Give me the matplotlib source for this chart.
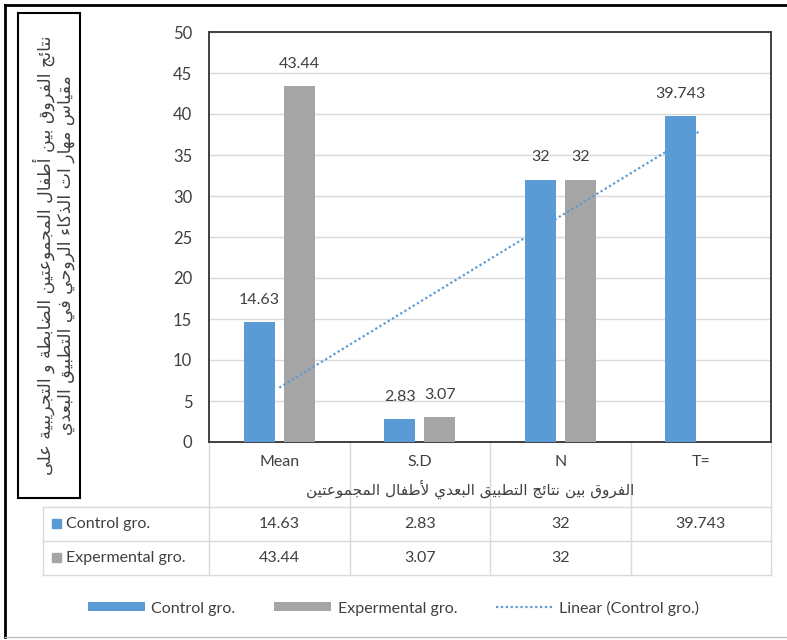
import numpy as np
import matplotlib
matplotlib.use("Agg")
import matplotlib.pyplot as plt
from matplotlib.patches import Rectangle

plt.rcParams['font.family'] = ['Lato', 'DejaVu Sans']

# ---- data ----
categories = ['Mean', 'S.D', 'N', 'T=']
series_names = ['Control gro.', 'Expermental gro.']
control = [14.63, 2.83, 32, 39.743]
experimental = [43.44, 3.07, 32, None]

y_title_lines = ['نتائج الفروق بين أطفال المجموعتين الضابطة و التجريبية على',
                 'مقياس مهار ات الذكاء الروحي في التطبيق البعدي']
x_title = 'الفروق بين نتائج التطبيق البعدي لأطفال المجموعتين'

BLUE = '#5b9bd5'
GRAY = '#a5a5a5'
TXT = '#404040'

# ---- minimal arabic shaping (matplotlib draws glyphs left-to-right, unjoined) ----
AR_FORMS = {
    'ء': (0xFE80, 1), 'آ': (0xFE81, 2), 'أ': (0xFE83, 2), 'ؤ': (0xFE85, 2),
    'إ': (0xFE87, 2), 'ئ': (0xFE89, 4), 'ا': (0xFE8D, 2), 'ب': (0xFE8F, 4),
    'ة': (0xFE93, 2), 'ت': (0xFE95, 4), 'ث': (0xFE99, 4), 'ج': (0xFE9D, 4),
    'ح': (0xFEA1, 4), 'خ': (0xFEA5, 4), 'د': (0xFEA9, 2), 'ذ': (0xFEAB, 2),
    'ر': (0xFEAD, 2), 'ز': (0xFEAF, 2), 'س': (0xFEB1, 4), 'ش': (0xFEB5, 4),
    'ص': (0xFEB9, 4), 'ض': (0xFEBD, 4), 'ط': (0xFEC1, 4), 'ظ': (0xFEC5, 4),
    'ع': (0xFEC9, 4), 'غ': (0xFECD, 4), 'ف': (0xFED1, 4), 'ق': (0xFED5, 4),
    'ك': (0xFED9, 4), 'ل': (0xFEDD, 4), 'م': (0xFEE1, 4), 'ن': (0xFEE5, 4),
    'ه': (0xFEE9, 4), 'و': (0xFEED, 2), 'ى': (0xFEEF, 2), 'ي': (0xFEF1, 4),
}
LAM_ALEF = {'ا': 0xFEFB, 'أ': 0xFEF7, 'إ': 0xFEF9, 'آ': 0xFEF5}


def dual(c):
    return c in AR_FORMS and AR_FORMS[c][1] == 4


def shape_ar(text):
    out = []
    n = len(text)
    i = 0
    while i < n:
        c = text[i]
        if c not in AR_FORMS:
            out.append(c)
            i += 1
            continue
        link_prev = i > 0 and dual(text[i - 1])
        if c == 'ل' and i + 1 < n and text[i + 1] in LAM_ALEF:
            out.append(chr(LAM_ALEF[text[i + 1]] + (1 if link_prev else 0)))
            i += 2
            continue
        base, nforms = AR_FORMS[c]
        nxt = text[i + 1] if i + 1 < n else ''
        link_next = nforms == 4 and nxt in AR_FORMS and nxt != 'ء'
        if nforms == 1:
            form = 0
        elif link_prev and link_next:
            form = 3
        elif link_prev:
            form = 1
        elif link_next:
            form = 2
        else:
            form = 0
        out.append(chr(base + form))
        i += 1
    return ''.join(reversed(out))


fig = plt.figure(figsize=(7.87, 6.40), dpi=100)

# overlay in pixel coords for frame, table and titles
ov = fig.add_axes([0, 0, 1, 1], zorder=0)
ov.set_xlim(0, 787)
ov.set_ylim(640, 0)
ov.axis('off')

# plot area
x0, x1, ytop, ybot = 209, 771, 32, 442
cw = (x1 - x0) / len(categories)
ax = fig.add_axes([x0 / 787, 1 - ybot / 640, (x1 - x0) / 787, (ybot - ytop) / 640], zorder=2)
ax.set_facecolor('none')

x = np.arange(len(categories))
w = 0.22
off = 0.142
b1 = ax.bar(x - off, control, w, color=BLUE, label=series_names[0], zorder=3)
ex_x = [xi + off for xi, v in zip(x, experimental) if v is not None]
ex_v = [v for v in experimental if v is not None]
b2 = ax.bar(ex_x, ex_v, w, color=GRAY, label=series_names[1], zorder=3)

for xi, v in zip(x - off, control):
    ax.annotate(f'{v:g}', (xi, v), xytext=(0, 16), textcoords='offset points',
                ha='center', va='center', fontsize=11.5, color=TXT)
for xi, v in zip(ex_x, ex_v):
    ax.annotate(f'{v:g}', (xi, v), xytext=(0, 16), textcoords='offset points',
                ha='center', va='center', fontsize=11.5, color=TXT)

# linear trend of the control group
k, c0 = np.polyfit(x, control, 1)
trend, = ax.plot(x, k * x + c0, ls=(0, (1, 1.2)), color=BLUE, lw=1.6,
                 label='Linear (Control gro.)', zorder=4)

ax.set_xlim(-0.5, len(categories) - 0.5)
ax.set_ylim(0, 50)
ax.set_yticks(np.arange(0, 51, 5))
ax.set_xticks([])
ax.grid(axis='y', color='#d9d9d9', lw=1, zorder=0)
ax.tick_params(axis='y', length=0, pad=12, labelsize=12, labelcolor=TXT)
for s in ax.spines.values():
    s.set_color('#404040')
    s.set_linewidth(1.4)

# outer frame
ov.plot([5, 5], [5, 637], color='black', lw=2)
ov.plot([5, 787], [5, 5], color='black', lw=2)
ov.plot([5, 787], [637, 637], color='#bfbfbf', lw=1)

# y title box
ov.add_patch(Rectangle((18, 13), 62, 485, fill=False, ec='black', lw=1.5))
for dx, line in zip([44, 66], y_title_lines):
    ov.text(dx, 255, shape_ar(line), rotation=90, ha='center', va='center',
            fontsize=12.5, color=TXT, family='DejaVu Sans')

# data table
grid_c = '#d9d9d9'
r0, r1, r2 = 507, 541, 575
for i in range(len(categories) + 1):
    ov.plot([x0 + i * cw] * 2, [ybot, r2], color=grid_c, lw=1)
for yy in (r0, r1, r2):
    ov.plot([43, x1], [yy, yy], color=grid_c, lw=1)
ov.plot([43, 43], [r0, r2], color=grid_c, lw=1)

for i, cat in enumerate(categories):
    ov.text(x0 + (i + 0.5) * cw, 462, cat, ha='center', va='center',
            fontsize=11.5, color=TXT)
ov.text(x0 + 2 * cw - 20, 489, shape_ar(x_title), ha='center', va='center',
        fontsize=11, color=TXT, family='DejaVu Sans')

for row_y, name, col, vals in [((r0 + r1) / 2, series_names[0], BLUE, control),
                               ((r1 + r2) / 2, series_names[1], GRAY, experimental)]:
    ov.add_patch(Rectangle((52, row_y - 5), 9, 9, color=col))
    ov.text(66, row_y, name, ha='left', va='center', fontsize=11.5, color=TXT)
    for i, v in enumerate(vals):
        if v is not None:
            ov.text(x0 + (i + 0.5) * cw, row_y, f'{v:g}', ha='center',
                    va='center', fontsize=11.5, color=TXT)

leg = fig.legend(handles=[b1, b2, trend], loc='center', bbox_to_anchor=(0.5, 1 - 608 / 640),
                 ncol=3, frameon=False, fontsize=11.5, handlelength=3.6, handleheight=0.5,
                 columnspacing=2.4, handletextpad=0.4)
for t in leg.get_texts():
    t.set_color(TXT)

fig.savefig('out.png', dpi=100)
